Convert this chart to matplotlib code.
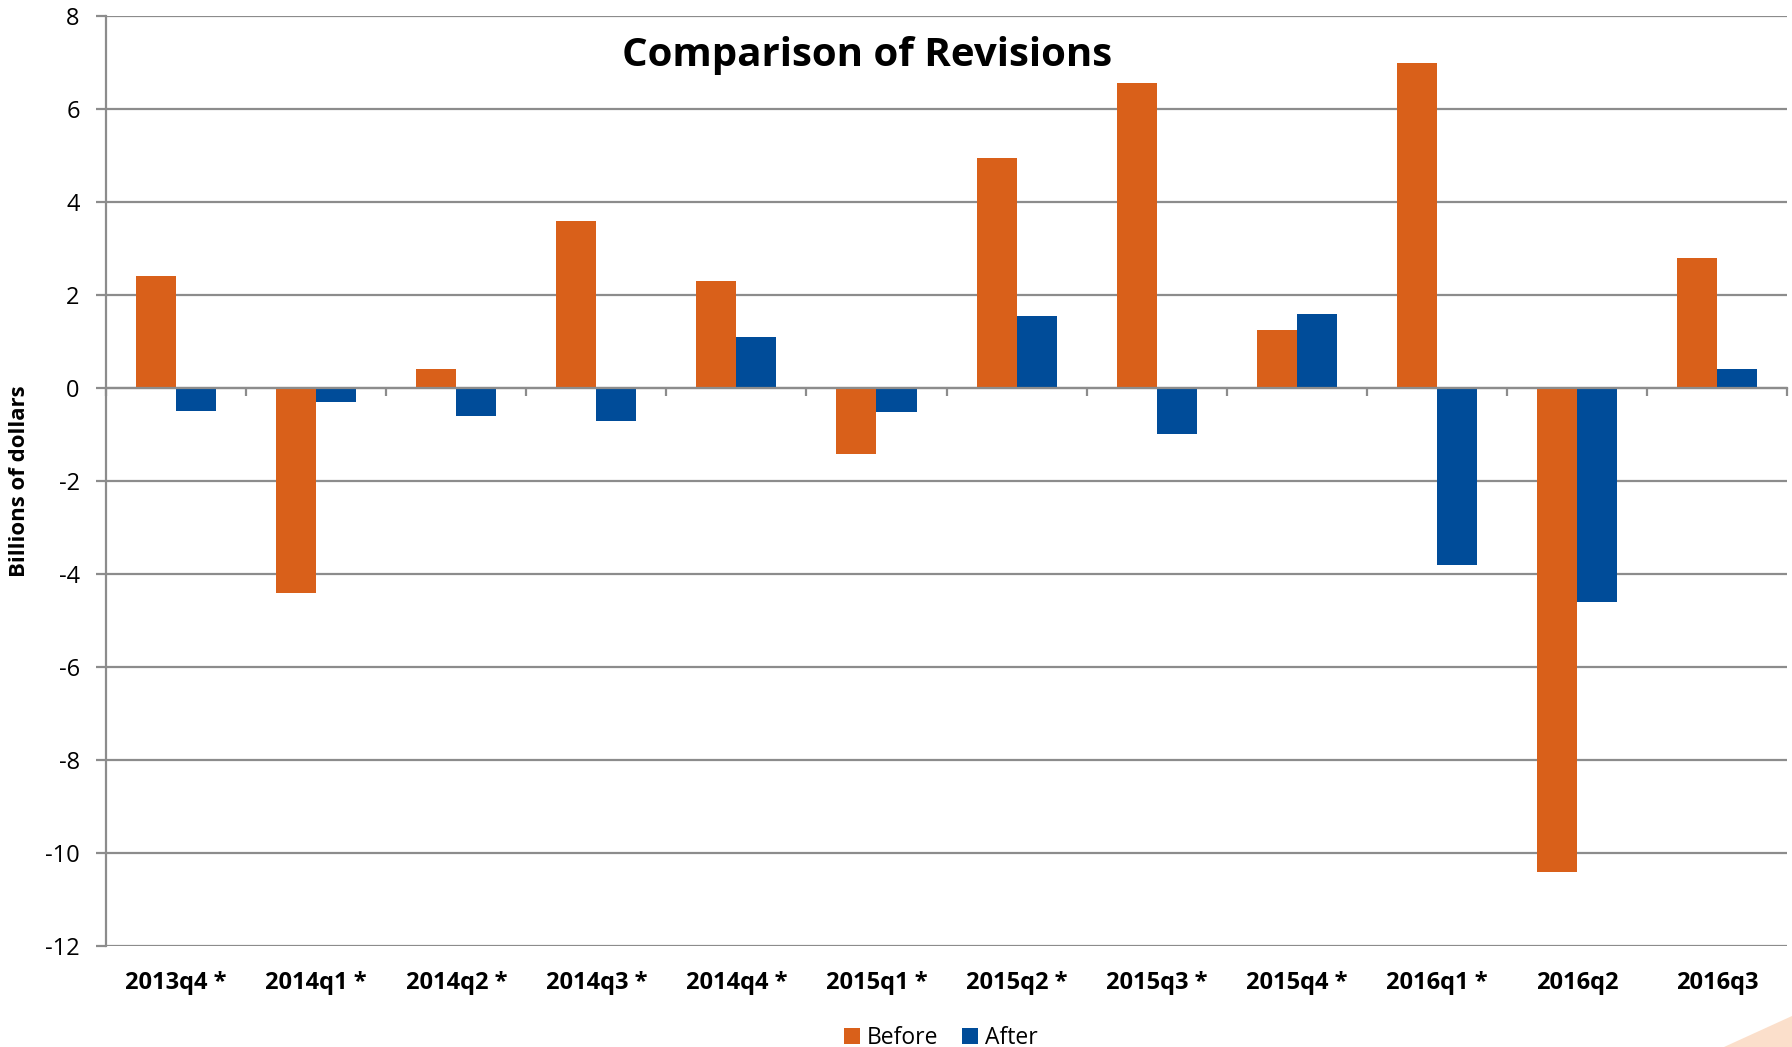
import numpy as np
import matplotlib.pyplot as plt
from matplotlib.patches import Polygon

plt.rcParams['font.family'] = ['Open Sans', 'DejaVu Sans']

# Data
quarters = ['2013q4 *', '2014q1 *', '2014q2 *', '2014q3 *', '2014q4 *', '2015q1 *',
            '2015q2 *', '2015q3 *', '2015q4 *', '2016q1 *', '2016q2', '2016q3']
before = [2.4, -4.4, 0.4, 3.6, 2.3, -1.42, 4.95, 6.55, 1.25, 7.0, -10.4, 2.8]
after = [-0.5, -0.3, -0.6, -0.7, 1.1, -0.52, 1.55, -1.0, 1.6, -3.8, -4.6, 0.4]
y_ticks = [8, 6, 4, 2, 0, -2, -4, -6, -8, -10, -12]

orange = '#D9601A'
blue = '#004C99'
grid_col = '#8C8C8C'

fig = plt.figure(figsize=(17.92, 10.47), dpi=100)
ax = fig.add_axes([0.0592, 0.0965, 0.938, 0.8882])

x = np.arange(len(quarters))
w = 40 / 140
ax.bar(x - w / 2, before, w, color=orange, label='Before', zorder=3)
ax.bar(x + w / 2, after, w, color=blue, label='After', zorder=3)

ax.set_xlim(-0.5, len(quarters) - 0.5)
ax.set_ylim(-12, 8)
ax.set_yticks(y_ticks)
ax.set_yticklabels([str(v) for v in y_ticks], fontsize=17)
ax.yaxis.grid(True, color=grid_col, linewidth=1.6, zorder=0)
ax.set_axisbelow(True)

# axis crossing at zero, ticks at category boundaries
for s in ['top', 'right']:
    ax.spines[s].set_visible(False)
ax.spines['left'].set_color(grid_col)
ax.spines['left'].set_linewidth(1.6)
ax.spines['bottom'].set_position(('data', 0))
ax.spines['bottom'].set_color(grid_col)
ax.spines['bottom'].set_linewidth(1.6)
ax.spines['bottom'].set_zorder(4)
ax.set_xticks(x)
ax.set_xticklabels([])
ax.tick_params(axis='x', which='major', length=0)
ax.set_xticks(np.arange(len(quarters) + 1) - 0.5, minor=True)
ax.tick_params(axis='x', which='minor', length=6, width=1.6, color=grid_col, direction='out')
ax.tick_params(axis='y', length=7, width=1.6, color=grid_col, pad=12)

for xi, lab in zip(x, quarters):
    ax.text(xi, -0.04, lab, transform=ax.get_xaxis_transform(), ha='center', va='center',
            fontsize=17, fontweight='bold')

ax.set_ylabel('Billions of dollars', fontsize=16, fontweight='bold')
ax.yaxis.set_label_coords(-0.045, 0.5)

fig.text(0.484, 0.947, 'Comparison of Revisions', ha='center', va='center',
         fontsize=29, fontweight='bold')

fig.legend(loc='lower center', bbox_to_anchor=(0.525, -0.018), ncol=2, frameon=False,
           fontsize=16.5, handlelength=0.7, handleheight=0.7, handletextpad=0.3,
           columnspacing=1.0, borderpad=0.2)

# decorative swoosh in the corner
fig.patches.append(Polygon([[0.962, 0.0], [1.0, 0.0], [1.0, 0.03]], closed=True,
                           transform=fig.transFigure, facecolor='#FAD2B5', edgecolor='none',
                           alpha=0.7))

fig.savefig('out.png', dpi=100)
